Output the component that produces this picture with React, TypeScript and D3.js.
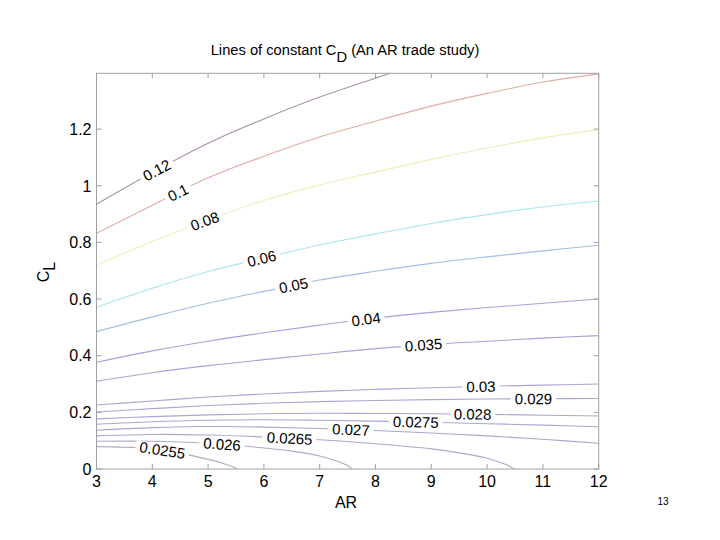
import React from 'react';
import * as d3 from 'd3';

const W = 720;
const H = 540;
const PL = 96.5, PR = 598.7, PT = 73.3, PB = 469;

const xTicks = [3, 4, 5, 6, 7, 8, 9, 10, 11, 12];
const yTicks = [0, 0.2, 0.4, 0.6, 0.8, 1, 1.2];
const yTickLabels = ['0', '0.2', '0.4', '0.6', '0.8', '1', '1.2'];
const arDomain = [3, 12];
const clDomain = [0, 1.397];

const arFull = [3, 4, 5, 6, 7, 8, 9, 10, 11, 12];

// Contour lines: AR positions and CL values
const ar0255 = [3, 3.5, 4, 4.5, 5, 5.3, 5.45, 5.52];
const cl0255 = [0.079, 0.077, 0.072, 0.056, 0.034, 0.018, 0.007, 0];
const ar0260 = [3, 4, 5, 5.5, 6, 6.5, 7, 7.3, 7.5, 7.58];
const cl0260 = [0.098, 0.098, 0.091, 0.084, 0.074, 0.063, 0.046, 0.028, 0.012, 0];
const ar0265 = [3, 4, 5, 6, 7, 8, 9, 9.5, 10, 10.25, 10.4, 10.48];
const cl0265 = [0.117, 0.122, 0.12, 0.113, 0.103, 0.089, 0.071, 0.057, 0.038, 0.022, 0.01, 0];
const cl0270 = [0.137, 0.146, 0.15, 0.148, 0.143, 0.136, 0.127, 0.117, 0.105, 0.091];
const cl0275 = [0.158, 0.167, 0.172, 0.174, 0.172, 0.169, 0.165, 0.16, 0.155, 0.149];
const cl0280 = [0.177, 0.185, 0.191, 0.195, 0.197, 0.196, 0.195, 0.193, 0.19, 0.187];
const cl0290 = [0.201, 0.213, 0.224, 0.232, 0.238, 0.242, 0.245, 0.247, 0.248, 0.249];
const cl0300 = [0.226, 0.24, 0.254, 0.265, 0.274, 0.281, 0.287, 0.292, 0.296, 0.3];
const cl0350 = [0.31, 0.34, 0.365, 0.386, 0.406, 0.425, 0.44, 0.451, 0.462, 0.471];
const cl0400 = [0.377, 0.417, 0.451, 0.481, 0.508, 0.533, 0.553, 0.57, 0.585, 0.6];
const cl0500 = [0.485, 0.537, 0.585, 0.627, 0.667, 0.698, 0.726, 0.749, 0.77, 0.79];
const cl0600 = [0.571, 0.638, 0.697, 0.745, 0.791, 0.83, 0.867, 0.898, 0.925, 0.946];
const cl0800 = [0.72, 0.803, 0.88, 0.948, 1.003, 1.048, 1.093, 1.133, 1.169, 1.198];
const cl1000 = [0.832, 0.931, 1.028, 1.104, 1.172, 1.228, 1.281, 1.326, 1.366, 1.395];
const ar1200 = [3, 4, 5, 6, 7, 8, 8.27];
const cl1200 = [0.935, 1.047, 1.15, 1.236, 1.313, 1.38, 1.397];

const levelLabels = ['0.0255', '0.026', '0.0265', '0.027', '0.0275', '0.028', '0.029', '0.03', '0.035', '0.04', '0.05', '0.06', '0.08', '0.1', '0.12'];
const levelColors = ['#b3abbd', '#aeaac6', '#aca9cb', '#a9a8d1', '#a9a8d2', '#a8a8d3', '#a8a8d4', '#a7a7d6', '#a5a3d8', '#a3a3db', '#a0bde4', '#a8e6ef', '#efefb8', '#e2aba3', '#a8949f'];
const labelAR = [4.18, 5.25, 6.46, 7.56, 8.72, 9.74, 10.83, 9.89, 8.86, 7.83, 6.53, 5.96, 4.94, 4.46, 4.08];

const lineAR = [ar0255, ar0260, ar0265, arFull, arFull, arFull, arFull, arFull, arFull, arFull, arFull, arFull, arFull, arFull, ar1200];
const lineCL = [cl0255, cl0260, cl0265, cl0270, cl0275, cl0280, cl0290, cl0300, cl0350, cl0400, cl0500, cl0600, cl0800, cl1000, cl1200];

const FONT = 'Liberation Sans, Arial, Helvetica, sans-serif';

function interp(ar: number[], cl: number[], a: number) {
  for (let i = 0; i < ar.length - 1; i++) {
    if (a >= ar[i] && a <= ar[i + 1]) {
      const t = (a - ar[i]) / (ar[i + 1] - ar[i]);
      return cl[i] + t * (cl[i + 1] - cl[i]);
    }
  }
  return cl[cl.length - 1];
}

export default function App() {
  const x = d3.scaleLinear().domain(arDomain).range([PL, PR]);
  const y = d3.scaleLinear().domain(clDomain).range([PB, PT]);
  const line = d3
    .line<[number, number]>()
    .x((d) => x(d[0]))
    .y((d) => y(d[1]))
    .curve(d3.curveCatmullRom.alpha(0.5));

  const fs = 15;
  const tfs = 16;

  return (
    <svg width={W} height={H} style={{ position: 'absolute', left: 0, top: 0, background: '#fff' }} fontFamily={FONT}>
      <defs>
        <clipPath id="plotclip">
          <rect x={PL} y={PT} width={PR - PL} height={PB - PT} />
        </clipPath>
      </defs>
      <rect x={0} y={0} width={W} height={H} fill="#fff" />
      <g clipPath="url(#plotclip)">
        {lineAR.map((ar, i) => {
          const pts = ar.map((a, j) => [a, lineCL[i][j]] as [number, number]);
          return <path key={i} d={line(pts) || ''} fill="none" stroke={levelColors[i]} strokeWidth={1.1} />;
        })}
        {levelLabels.map((lab, i) => {
          const a = labelAR[i];
          const ar = lineAR[i];
          const cl = lineCL[i];
          const c = interp(ar, cl, a);
          const a0 = Math.max(ar[0], a - 0.2);
          const a1 = Math.min(ar[ar.length - 1], a + 0.2);
          const dx = x(a1) - x(a0);
          const dy = y(interp(ar, cl, a1)) - y(interp(ar, cl, a0));
          const ang = (Math.atan2(dy, dx) * 180) / Math.PI;
          const wEst = (lab.length - 1) * 0.556 * fs + 0.278 * fs;
          return (
            <g key={'l' + i} transform={`translate(${x(a)},${y(c)}) rotate(${ang})`}>
              <rect x={-wEst / 2 - 4} y={-fs * 0.4} width={wEst + 8} height={fs * 0.8} fill="#fff" />
              <text textAnchor="middle" dy="0.36em" fontSize={fs} fill="#000">
                {lab}
              </text>
            </g>
          );
        })}
      </g>
      {/* axes box */}
      <rect x={PL} y={PT} width={PR - PL} height={PB - PT} fill="none" stroke="#a0a0a0" strokeWidth={1} />
      {xTicks.map((t) => (
        <g key={'xt' + t}>
          <line x1={x(t)} x2={x(t)} y1={PB} y2={PB - 5} stroke="#a0a0a0" />
          <line x1={x(t)} x2={x(t)} y1={PT} y2={PT + 5} stroke="#a0a0a0" />
          <text x={x(t)} y={PB + 18} textAnchor="middle" fontSize={tfs} fill="#000">
            {t}
          </text>
        </g>
      ))}
      {yTicks.map((t, i) => (
        <g key={'yt' + t}>
          <line x1={PL} x2={PL + 5} y1={y(t)} y2={y(t)} stroke="#a0a0a0" />
          <line x1={PR} x2={PR - 5} y1={y(t)} y2={y(t)} stroke="#a0a0a0" />
          <text x={PL - 5} y={y(t)} dy="0.36em" textAnchor="end" fontSize={tfs} fill="#000">
            {yTickLabels[i]}
          </text>
        </g>
      ))}
      <text x={345} y={55} textAnchor="middle" fontSize={14.7} fill="#000">
        Lines of constant C<tspan dy={6.5}>D</tspan>
        <tspan dy={-6.5}> (An AR trade study)</tspan>
      </text>
      <text x={346} y={508} textAnchor="middle" fontSize={tfs} fill="#000">
        AR
      </text>
      <text transform="translate(49,272) rotate(-90)" textAnchor="middle" fontSize={tfs} fill="#000">
        C<tspan dy={6}>L</tspan>
      </text>
      <text x={663} y={505} textAnchor="middle" fontSize={10} fill="#000">
        13
      </text>
    </svg>
  );
}
